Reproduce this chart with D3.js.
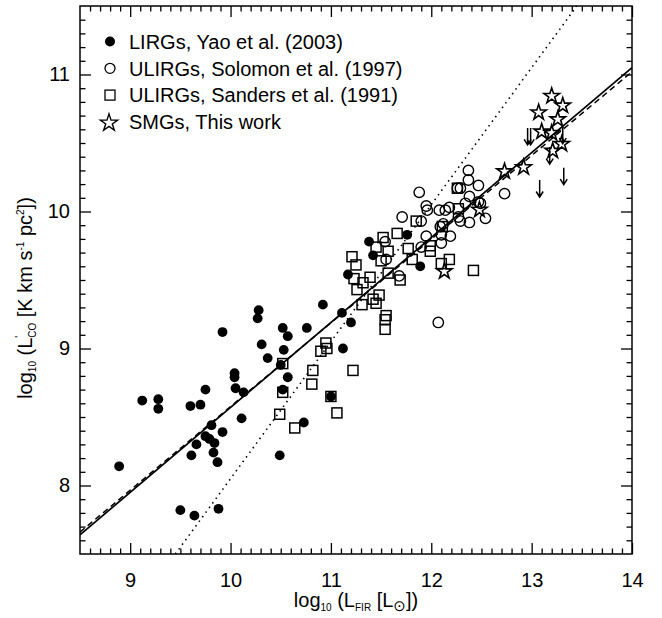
<!DOCTYPE html>
<html><head><meta charset="utf-8">
<script src="https://cdn.jsdelivr.net/npm/d3@7"></script>
<style>
body{margin:0;background:#fff;}
svg text{font-family:"Liberation Sans",Arial,Helvetica,sans-serif;fill:#000;}
</style></head><body>
<svg id="chart" width="662" height="618"></svg>
<script>
// ---------- data (log10 L_FIR, log10 L'CO) ----------
const xTicks = [9, 10, 11, 12, 13, 14];
const yTicks = [8, 9, 10, 11];

const yaoLIRGs = [[8.89,8.14],[9.12,8.62],[9.28,8.63],[9.28,8.56],[9.50,7.82],[9.60,8.58],[9.61,8.22],[9.64,7.78],[9.66,8.30],[9.70,8.59],[9.75,8.70],[9.75,8.36],[9.81,8.44],[9.79,8.34],[9.84,8.31],[9.83,8.24],[9.87,8.17],[9.88,7.83],[9.92,9.12],[9.92,8.39],[10.04,8.82],[10.04,8.79],[10.05,8.71],[10.11,8.49],[10.13,8.68],[10.27,9.22],[10.28,9.28],[10.31,9.03],[10.37,8.93],[10.49,8.22],[10.50,8.88],[10.52,9.15],[10.53,8.99],[10.57,9.09],[10.57,8.79],[10.52,8.70],[10.73,8.46],[10.76,9.15],[10.92,9.32],[11.00,8.65],[11.11,9.26],[11.12,9.00],[11.20,9.19],[11.38,9.78],[11.42,9.68],[11.76,9.83],[11.17,9.54],[11.89,9.60]];

const solomonULIRGs = [[11.88,10.14],[11.95,10.04],[11.96,10.01],[11.71,9.96],[11.90,9.93],[12.08,10.01],[12.14,10.01],[12.18,10.03],[12.26,10.17],[12.29,10.17],[12.47,10.19],[12.38,10.11],[12.47,10.07],[12.49,10.06],[12.34,10.06],[12.27,9.96],[12.29,9.93],[12.38,9.92],[12.54,9.95],[12.09,9.89],[12.12,9.91],[12.19,9.82],[12.10,9.83],[12.10,9.77],[11.95,9.82],[11.90,9.74],[11.55,9.65],[11.54,9.78],[11.68,9.53],[12.07,9.19],[12.37,10.30],[12.37,10.23],[12.73,10.13]];

const sandersULIRGs = [[10.52,8.89],[10.52,8.68],[10.49,8.52],[10.64,8.42],[10.82,8.84],[10.81,8.74],[10.90,8.98],[10.95,9.04],[10.96,9.00],[11.00,8.65],[11.06,8.53],[11.22,8.84],[11.21,9.67],[11.25,9.61],[11.52,9.81],[11.45,9.74],[11.57,9.71],[11.50,9.64],[11.66,9.84],[11.77,9.73],[11.81,9.65],[11.69,9.50],[11.57,9.55],[11.23,9.51],[11.32,9.48],[11.39,9.52],[11.26,9.43],[11.48,9.39],[11.45,9.33],[11.31,9.32],[11.42,9.36],[11.55,9.24],[11.54,9.21],[11.54,9.14],[11.85,9.93],[11.99,9.75],[11.99,9.71],[12.10,9.62],[12.18,9.65],[12.42,9.57],[12.26,10.17],[12.11,9.89],[12.27,10.02]];

const smgDetections = [[13.20,10.85],[13.31,10.78],[13.07,10.73],[13.26,10.68],[13.10,10.59],[13.20,10.58],[13.30,10.50],[13.21,10.45],[12.73,10.30],[12.92,10.33],[12.48,10.02],[12.13,9.57]];

const smgUpperLimits = [[12.96,10.61],[12.99,10.61],[13.31,10.62],[13.18,10.47],[13.32,10.32],[13.08,10.23]];

const fitSolid  = [[8.5,7.64],[14,11.05]];
const fitDashed = [[8.5,7.66],[14,11.02]];
const constRatio = [[9.45,7.5],[13.45,11.5]];

const legendLabels = ["LIRGs, Yao et al. (2003)","ULIRGs, Solomon et al. (1997)","ULIRGs, Sanders et al. (1991)","SMGs, This work"];

// ---------- layout ----------
const L = 80, R = 632, T = 6, B = 554;
const FS = 20;
const svg = d3.select("#chart");
const x = d3.scaleLinear().domain([8.5, 14]).range([L, R]);
const y = d3.scaleLinear().domain([7.5, 11.5]).range([B, T]);

svg.append("defs").append("clipPath").attr("id","plotclip")
  .append("rect").attr("x",L).attr("y",T).attr("width",R-L).attr("height",B-T);

// ---------- axes ----------
const minorX = d3.range(86, 140).map(v => v/10).filter(v => !xTicks.includes(v));
const minorY = d3.range(76, 115).map(v => v/10).filter(v => !yTicks.includes(v));

function styleAxis(g){
  g.select(".domain").remove();
  g.selectAll(".tick line").attr("stroke","#000").attr("stroke-width",1.3);
  g.selectAll(".tick text").attr("font-size",FS).attr("font-family",'"Liberation Sans",Arial,sans-serif').attr("fill","#000");
}
svg.append("g").attr("transform",`translate(0,${B})`)
  .call(d3.axisBottom(x).tickValues(xTicks).tickSize(-11).tickPadding(19).tickFormat(d3.format("d"))).call(styleAxis);
svg.append("g").attr("transform",`translate(0,${B})`)
  .call(d3.axisBottom(x).tickValues(minorX).tickSize(-5.5).tickFormat("")).call(styleAxis);
svg.append("g").attr("transform",`translate(0,${T})`)
  .call(d3.axisTop(x).tickValues(xTicks).tickSize(-11).tickFormat("")).call(styleAxis);
svg.append("g").attr("transform",`translate(0,${T})`)
  .call(d3.axisTop(x).tickValues(minorX).tickSize(-5.5).tickFormat("")).call(styleAxis);
svg.append("g").attr("transform",`translate(${L},0)`)
  .call(d3.axisLeft(y).tickValues(yTicks).tickSize(-11).tickPadding(10).tickFormat(d3.format("d"))).call(styleAxis);
svg.append("g").attr("transform",`translate(${L},0)`)
  .call(d3.axisLeft(y).tickValues(minorY).tickSize(-5.5).tickFormat("")).call(styleAxis);
svg.append("g").attr("transform",`translate(${R},0)`)
  .call(d3.axisRight(y).tickValues(yTicks).tickSize(-11).tickFormat("")).call(styleAxis);
svg.append("g").attr("transform",`translate(${R},0)`)
  .call(d3.axisRight(y).tickValues(minorY).tickSize(-5.5).tickFormat("")).call(styleAxis);

// ---------- lines ----------
const line = d3.line().x(d => x(d[0])).y(d => y(d[1]));
const lines = svg.append("g").attr("clip-path","url(#plotclip)").attr("fill","none").attr("stroke","#000");
lines.append("path").datum(constRatio).attr("d",line).attr("stroke-width",1.6).attr("stroke-dasharray","1.5,4.2");
lines.append("path").datum(fitDashed).attr("d",line).attr("stroke-width",1.5).attr("stroke-dasharray","6,4");
lines.append("path").datum(fitSolid).attr("d",line).attr("stroke-width",1.7);

// ---------- points ----------
const pts = svg.append("g").attr("clip-path","url(#plotclip)");
pts.selectAll("circle.yao").data(yaoLIRGs).join("circle").attr("class","yao")
  .attr("cx",d=>x(d[0])).attr("cy",d=>y(d[1])).attr("r",4.9).attr("fill","#000");
pts.selectAll("rect.sanders").data(sandersULIRGs).join("rect").attr("class","sanders")
  .attr("x",d=>x(d[0])-5).attr("y",d=>y(d[1])-5).attr("width",10).attr("height",10)
  .attr("fill","none").attr("stroke","#000").attr("stroke-width",1.5);
pts.selectAll("circle.solomon").data(solomonULIRGs).join("circle").attr("class","solomon")
  .attr("cx",d=>x(d[0])).attr("cy",d=>y(d[1])).attr("r",5.2)
  .attr("fill","none").attr("stroke","#000").attr("stroke-width",1.4);
const star = d3.symbol().type(d3.symbolStar).size(74);
pts.selectAll("path.smg").data(smgDetections).join("path").attr("class","smg")
  .attr("transform",d=>`translate(${x(d[0])},${y(d[1])+1})`).attr("d",star())
  .attr("fill","none").attr("stroke","#000").attr("stroke-width",1.6).attr("stroke-linejoin","miter");
const AL = 17;
pts.selectAll("path.lim").data(smgUpperLimits).join("path").attr("class","lim")
  .attr("d",d=>{const px=x(d[0]), py=y(d[1]);
    return `M${px},${py}L${px},${py+AL}M${px-3.5},${py+AL-5.5}L${px},${py+AL}L${px+3.5},${py+AL-5.5}`;})
  .attr("fill","none").attr("stroke","#000").attr("stroke-width",1.5);

// ---------- frame ----------
svg.append("rect").attr("x",L).attr("y",T).attr("width",R-L).attr("height",B-T)
  .attr("fill","none").attr("stroke","#000").attr("stroke-width",1.5);

// ---------- legend ----------
const lg = svg.append("g");
const rowY = i => 41.5 + i*26.8;
const mx = 110;
lg.append("circle").attr("cx",mx).attr("cy",rowY(0)).attr("r",5).attr("fill","#000");
lg.append("circle").attr("cx",mx).attr("cy",rowY(1)).attr("r",5).attr("fill","none").attr("stroke","#000").attr("stroke-width",1.3);
lg.append("rect").attr("x",mx-5).attr("y",rowY(2)-5).attr("width",10).attr("height",10).attr("fill","none").attr("stroke","#000").attr("stroke-width",1.3);
lg.append("path").attr("transform",`translate(${mx-1},${rowY(3)+1})`).attr("d",d3.symbol().type(d3.symbolStar).size(92)())
  .attr("fill","none").attr("stroke","#000").attr("stroke-width",1.4);
lg.selectAll("text").data(legendLabels).join("text")
  .attr("x",129).attr("y",(d,i)=>rowY(i)).attr("dy","0.36em").attr("font-size",FS).text(d=>d);

// ---------- axis titles ----------
const xt = svg.append("text").attr("x",(L+R)/2).attr("y",607).attr("text-anchor","middle").attr("font-size",FS);
xt.append("tspan").text("log");
xt.append("tspan").attr("font-size",10).attr("dy",4).text("10");
xt.append("tspan").attr("dy",-4).text(" (L");
xt.append("tspan").attr("font-size",10).attr("dy",4).text("FIR");
xt.append("tspan").attr("dy",-4).text(" [L");
xt.append("tspan").attr("font-size",15).attr("dy",4).attr("font-family","DejaVu Sans").text("\u2299");
xt.append("tspan").attr("dy",-4).text("])");

const yt = svg.append("text").attr("transform","translate(32,298) rotate(-90)").attr("text-anchor","middle").attr("font-size",FS);
yt.append("tspan").text("log");
yt.append("tspan").attr("font-size",10).attr("dy",4).text("10");
yt.append("tspan").attr("dy",-4).text(" (L");
yt.append("tspan").attr("font-size",10).attr("dy",-9).text("'");
yt.append("tspan").attr("font-size",10).attr("dy",13).attr("dx",-2).text("CO");
yt.append("tspan").attr("dy",-4).text(" [K km s");
yt.append("tspan").attr("font-size",10).attr("dy",-8).text("-1");
yt.append("tspan").attr("dy",8).text(" pc");
yt.append("tspan").attr("font-size",10).attr("dy",-8).text("2");
yt.append("tspan").attr("dy",8).text("])");
</script>
</body></html>
